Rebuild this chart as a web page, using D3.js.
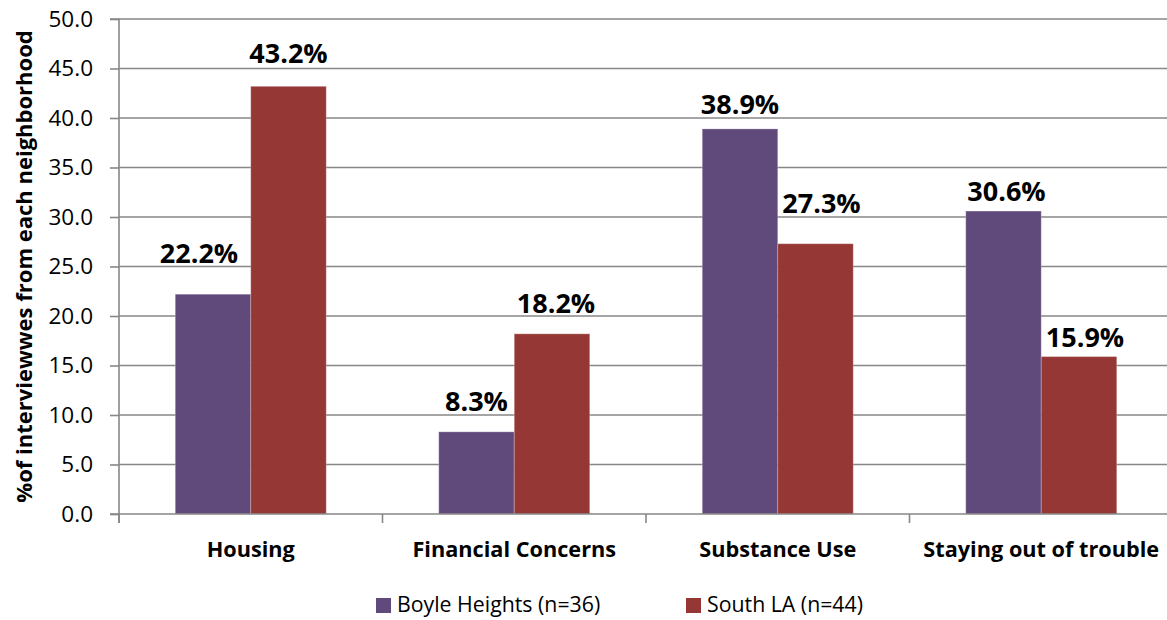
<!DOCTYPE html>
<html><head><meta charset="utf-8">
<script src="https://cdn.jsdelivr.net/npm/d3@7/dist/d3.min.js"></script>
<style>
html,body{margin:0;padding:0;background:#fff;}
svg{display:block;font-family:"Open Sans",sans-serif;}
</style></head>
<body>
<svg id="chart" width="1167" height="620"></svg>
<script>
const categories = ["Housing", "Financial Concerns", "Substance Use", "Staying out of trouble"];
const seriesNames = ["Boyle Heights (n=36)", "South LA (n=44)"];
const boyleHeights = [22.2, 8.3, 38.9, 30.6];
const southLA = [43.2, 18.2, 27.3, 15.9];
const yTicks = [0, 5, 10, 15, 20, 25, 30, 35, 40, 45, 50];
const yTitle = "%of interviewwes from each neighborhood";

// label nudges (layout only), per series per category [dx, dy]
const labelNudge = [
  [[-14,-16],[0,-6],[0,0],[3,5]],
  [[0,-8],[4,-6],[6,-16],[6,5]]
];

const colors = ["#604A7B", "#953735"];
const seriesValues = [boyleHeights, southLA];

const svg = d3.select("#chart");
const pLeft = 119, pRight = 1173, pTop = 19, pBottom = 514;

const x = d3.scaleBand().domain(categories).range([pLeft, pRight]).padding(0);
const xs = d3.scaleBand().domain(d3.range(seriesNames.length)).range([0, x.bandwidth()])
  .paddingInner(0).paddingOuter(0.745);
const y = d3.scaleLinear().domain([0, 50]).range([pBottom, pTop]);

const gridColor = "#878787";

// gridlines
svg.append("g").selectAll("line").data(yTicks.filter(d => d > 0)).join("line")
  .attr("x1", pLeft).attr("x2", 1167)
  .attr("y1", d => y(d)).attr("y2", d => y(d))
  .attr("stroke", gridColor).attr("stroke-width", 1.6);

// bars
const groups = svg.append("g").selectAll("g").data(seriesValues).join("g")
  .attr("fill", (d, i) => colors[i]);
groups.each(function(vals, si) {
  d3.select(this).selectAll("rect").data(vals).join("rect")
    .attr("x", (d, ci) => x(categories[ci]) + xs(si))
    .attr("y", d => y(d))
    .attr("width", xs.bandwidth())
    .attr("height", d => y(0) - y(d))
    .attr("stroke", "rgba(255,255,255,0.25)").attr("stroke-width", 1);
});

// y axis
const yAxis = d3.axisLeft(y).tickValues(yTicks).tickFormat(d3.format(".1f")).tickSize(9).tickPadding(17);
const gy = svg.append("g").attr("transform", `translate(${pLeft},0)`).call(yAxis);
gy.select(".domain").attr("stroke", gridColor).attr("stroke-width", 1.6)
  .attr("d", `M-9,${pTop}H0V${pBottom + 9}`);
gy.selectAll(".tick line").attr("stroke", gridColor).attr("stroke-width", 1.6);
gy.selectAll(".tick text").attr("font-size", 22.5).attr("fill", "#000")
  .attr("font-family", "'Open Sans', sans-serif");

// x axis
const xAxis = d3.axisBottom(x).tickSize(0).tickPadding(0).tickFormat("");
const gx = svg.append("g").attr("transform", `translate(0,${pBottom})`).call(xAxis);
gx.select(".domain").attr("stroke", gridColor).attr("stroke-width", 1.6)
  .attr("d", `M${pLeft - 9},0H1167`);
gx.selectAll(".tick").remove();
// category boundary ticks
gx.selectAll("line.bt").data(categories).join("line").attr("class", "bt")
  .attr("x1", d => x(d)).attr("x2", d => x(d)).attr("y1", 0).attr("y2", 9)
  .attr("stroke", gridColor).attr("stroke-width", 1.6);
// category labels
svg.append("g").selectAll("text").data(categories).join("text")
  .attr("x", d => x(d) + x.bandwidth() / 2)
  .attr("y", 557)
  .attr("text-anchor", "middle")
  .attr("font-size", 21.7).attr("font-weight", "bold").attr("fill", "#000")
  .text(d => d);

// value labels
seriesValues.forEach((vals, si) => {
  svg.append("g").selectAll("text").data(vals).join("text")
    .attr("x", (d, ci) => x(categories[ci]) + xs(si) + xs.bandwidth() / 2 + labelNudge[si][ci][0])
    .attr("y", (d, ci) => y(d) - 15 + labelNudge[si][ci][1])
    .attr("text-anchor", "middle")
    .attr("font-size", 27).attr("font-weight", "bold").attr("fill", "#000")
    .text(d => d3.format(".1f")(d) + "%");
});

// y title
svg.append("text")
  .attr("transform", `translate(32,${(pTop + pBottom) / 2}) rotate(-90)`)
  .attr("text-anchor", "middle")
  .attr("font-size", 22).attr("font-weight", "bold").attr("fill", "#000")
  .text(yTitle);

// legend
const legendX = [376, 686];
const lg = svg.append("g").selectAll("g").data(seriesNames).join("g")
  .attr("transform", (d, i) => `translate(${legendX[i]},0)`);
lg.append("rect").attr("x", 0).attr("y", 598).attr("width", 15).attr("height", 15)
  .attr("fill", (d, i) => colors[i]);
lg.append("text").attr("x", 21).attr("y", 612)
  .attr("font-size", 21.3).attr("fill", "#000").text(d => d);
</script>
</body></html>
